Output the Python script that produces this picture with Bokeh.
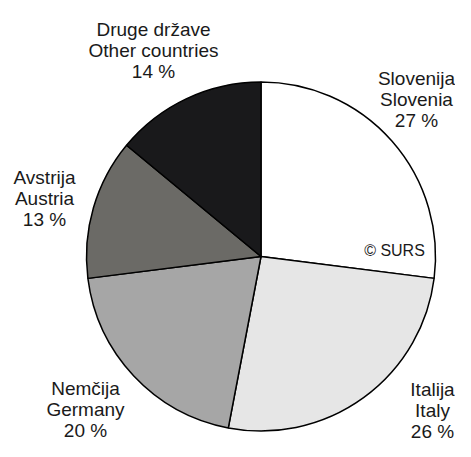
import numpy as np
from bokeh.plotting import figure
from bokeh.models import ColumnDataSource, Range1d
from bokeh.core.properties import value
from bokeh.embed import file_html
from bokeh.resources import INLINE

# Data
labels_sl = ["Slovenija", "Italija", "Nemčija", "Avstrija", "Druge države"]
labels_en = ["Slovenia", "Italy", "Germany", "Austria", "Other countries"]
shares = [27, 26, 20, 13, 14]
colors = ["#ffffff", "#e6e6e6", "#a6a6a6", "#6b6a66", "#19191b"]

# Layout (pixel coordinates from top-left; data y = H - image y)
W, H = 455, 441
cx, cy_img, r = 260.5, 256, 174.5
label_x = [416, 432, 85, 44, 153]
label_base_img = [78, 389, 388, 177, 29]
line_gap = 21

p = figure(width=W, height=H, output_backend="svg", toolbar_location=None,
           x_range=Range1d(0, W), y_range=Range1d(0, H),
           min_border=0)
p.axis.visible = False
p.grid.visible = False
p.outline_line_color = None
p.background_fill_color = "white"
p.border_fill_color = "white"

vals = np.array(shares, dtype=float)
cum = np.concatenate([[0], np.cumsum(vals)]) / vals.sum()
start = np.pi / 2 - 2 * np.pi * cum[:-1]
end = np.pi / 2 - 2 * np.pi * cum[1:]

src = ColumnDataSource(dict(x=[cx] * len(vals), y=[H - cy_img] * len(vals),
                            start=start, end=end, color=colors))
p.wedge(x="x", y="y", radius=r, start_angle="start", end_angle="end",
        direction="clock", fill_color="color", line_color="black",
        line_width=1.5, source=src)

tx, ty, tt = [], [], []
for i in range(len(shares)):
    lines = [labels_sl[i], labels_en[i], f"{shares[i]} %"]
    for k, t in enumerate(lines):
        tx.append(label_x[i])
        ty.append(H - (label_base_img[i] + k * line_gap))
        tt.append(t)
p.text(x="x", y="y", text="t", source=ColumnDataSource(dict(x=tx, y=ty, t=tt)),
       text_font=value("Liberation Sans"), text_font_size="19px",
       text_color="#1a1a1a", text_align="center", text_baseline="alphabetic")

p.text(x=[394], y=[H - 250], text=["© SURS"],
       text_font=value("Liberation Sans"), text_font_size="16px",
       text_color="#1a1a1a", text_align="center", text_baseline="alphabetic")

open("out.html", "w").write(file_html(p, INLINE))
